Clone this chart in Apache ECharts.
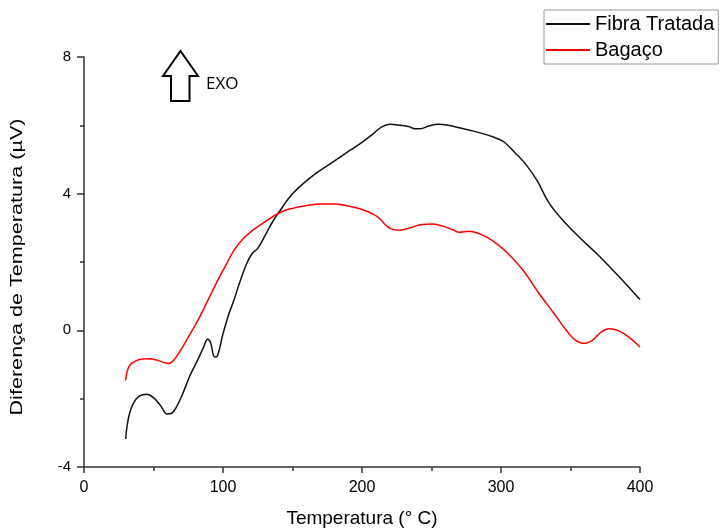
<!DOCTYPE html>
<html>
<head>
<meta charset="utf-8">
<script src="https://cdn.jsdelivr.net/npm/echarts@6/dist/echarts.min.js"></script>
<style>
    html, body { margin: 0; padding: 0; background: #fff; }
    #chart { width: 721px; height: 530px; }
</style>
</head>
<body>
<div id="chart"></div>
<script>
    // Fibra Tratada (curva preta)
    const tempFibra = [30, 31, 33, 36, 40, 45, 50, 55, 60, 64, 70, 76, 82, 86, 89, 91, 94, 96, 100, 104,
        108, 112, 117, 121, 125, 131, 136, 141, 148, 155, 167, 180, 191, 200, 208, 214, 220, 228, 234, 238,
        242, 248, 255, 262, 273, 285, 295, 302, 310, 318, 326, 335, 347, 358, 369, 380, 390, 400];
    const difFibra = [-3.18, -2.8, -2.4, -2.1, -1.92, -1.87, -1.97, -2.2, -2.45, -2.4, -1.95, -1.35, -0.85, -0.5, -0.26, -0.35, -0.78, -0.75, -0.1, 0.45,
        0.9, 1.4, 1.95, 2.25, 2.4, 2.83, 3.2, 3.5, 3.9, 4.2, 4.6, 4.95, 5.26, 5.5, 5.75, 5.95, 6.03, 6.0, 5.96, 5.9,
        5.9, 5.98, 6.03, 6.0, 5.9, 5.78, 5.65, 5.52, 5.2, 4.85, 4.38, 3.7, 3.11, 2.66, 2.24, 1.78, 1.35, 0.9];

    // Bagaço (curva vermelha)
    const tempBagaco = [30, 31, 33, 37, 42, 47, 53, 58, 61, 65, 70, 75, 80, 84, 90, 96, 102, 108, 115, 122,
        131, 141, 150, 160, 170, 180, 190, 199, 208, 213, 217, 221, 227, 236, 243, 250, 258, 265, 270, 277,
        283, 290, 297, 305, 316, 327, 338, 347, 353, 360, 366, 372, 378, 384, 392, 400];
    const difBagaco = [-1.46, -1.2, -1.02, -0.9, -0.84, -0.83, -0.88, -0.95, -0.97, -0.85, -0.55, -0.2, 0.15, 0.45, 0.95, 1.45, 1.9, 2.35, 2.7, 2.95,
        3.2, 3.45, 3.57, 3.65, 3.7, 3.7, 3.64, 3.55, 3.4, 3.26, 3.08, 2.97, 2.93, 3.02, 3.1, 3.11, 3.05, 2.95, 2.87, 2.9,
        2.85, 2.72, 2.53, 2.25, 1.75, 1.1, 0.5, 0.0, -0.27, -0.38, -0.28, -0.05, 0.05, 0.0, -0.2, -0.49];

    const xTicks = [0, 100, 200, 300, 400];
    const yTicks = [-4, 0, 4, 8];

    const zip = (xs, ys) => xs.map((x, i) => [x, ys[i]]);

    const font = 'Liberation Sans, Arial, sans-serif';
    const axisColor = '#333';

    let myChart = echarts.init(document.getElementById('chart'));
    myChart.setOption({
        animation: false,
        backgroundColor: '#fff',
        grid: {
            left: 84,
            right: 81,
            top: 57,
            bottom: 63,
            containLabel: false,
            outerBoundsMode: 'none'
        },
        legend: {
            orient: 'vertical',
            left: 544,
            top: 10,
            padding: [4, 4, 4, 2],
            borderColor: '#999',
            borderWidth: 1,
            borderRadius: 0,
            icon: 'rect',
            itemWidth: 44,
            itemHeight: 2,
            itemGap: 6,
            textStyle: { fontFamily: font, fontSize: 20, lineHeight: 20, color: '#000' },
            data: ['Fibra Tratada', 'Bagaço']
        },
        xAxis: {
            type: 'value',
            min: xTicks[0],
            max: xTicks[xTicks.length - 1],
            interval: 100,
            name: 'Temperatura (° C)',
            nameLocation: 'middle',
            nameGap: 42,
            nameTextStyle: { fontFamily: font, fontSize: 19, color: '#000' },
            axisLine: { onZero: false, lineStyle: { color: axisColor, width: 1.5 } },
            axisTick: { inside: false, length: 6, lineStyle: { color: axisColor, width: 1.5 } },
            minorTick: { show: true, splitNumber: 2, length: 4, lineStyle: { color: axisColor, width: 1.5 } },
            axisLabel: { fontFamily: font, fontSize: 16, color: '#000', margin: 13 },
            splitLine: { show: false }
        },
        yAxis: {
            type: 'value',
            min: yTicks[0],
            max: yTicks[yTicks.length - 1],
            interval: 4,
            axisLine: { show: true, onZero: false, lineStyle: { color: axisColor, width: 1.5 } },
            axisTick: { show: true, inside: false, length: 7, lineStyle: { color: axisColor, width: 1.5 } },
            minorTick: { show: true, splitNumber: 2, length: 4, lineStyle: { color: axisColor, width: 1.5 } },
            axisLabel: { fontFamily: font, fontSize: 15, color: '#000', margin: 13 },
            splitLine: { show: false }
        },
        series: [
            {
                name: 'Fibra Tratada',
                type: 'line',
                data: zip(tempFibra, difFibra),
                smooth: 0.4,
                symbol: 'none',
                color: '#111',
                lineStyle: { color: '#111', width: 1.5 }
            },
            {
                name: 'Bagaço',
                type: 'line',
                data: zip(tempBagaco, difBagaco),
                smooth: 0.4,
                symbol: 'none',
                color: '#ff0000',
                lineStyle: { color: '#ff0000', width: 1.5 }
            }
        ],
        graphic: [
            // titulo do eixo y (esticado na vertical como no original)
            {
                type: 'text',
                x: 18,
                y: 267,
                rotation: Math.PI / 2,
                scaleX: 1.35,
                style: {
                    text: 'Diferença de Temperatura (µV)',
                    font: '16px ' + font,
                    fill: '#000',
                    align: 'center',
                    verticalAlign: 'middle'
                }
            },
            // seta EXO
            {
                type: 'polygon',
                shape: {
                    points: [[180.5, 51], [198, 76], [189.5, 76], [189.5, 101], [171, 101], [171, 76], [163, 76]]
                },
                style: { fill: 'none', stroke: '#000', lineWidth: 2 }
            },
            {
                type: 'text',
                x: 206,
                y: 84,
                style: {
                    text: 'EXO',
                    font: '17px "Open Sans", sans-serif',
                    fill: '#000',
                    verticalAlign: 'middle'
                }
            }
        ]
    });
</script>
</body>
</html>
